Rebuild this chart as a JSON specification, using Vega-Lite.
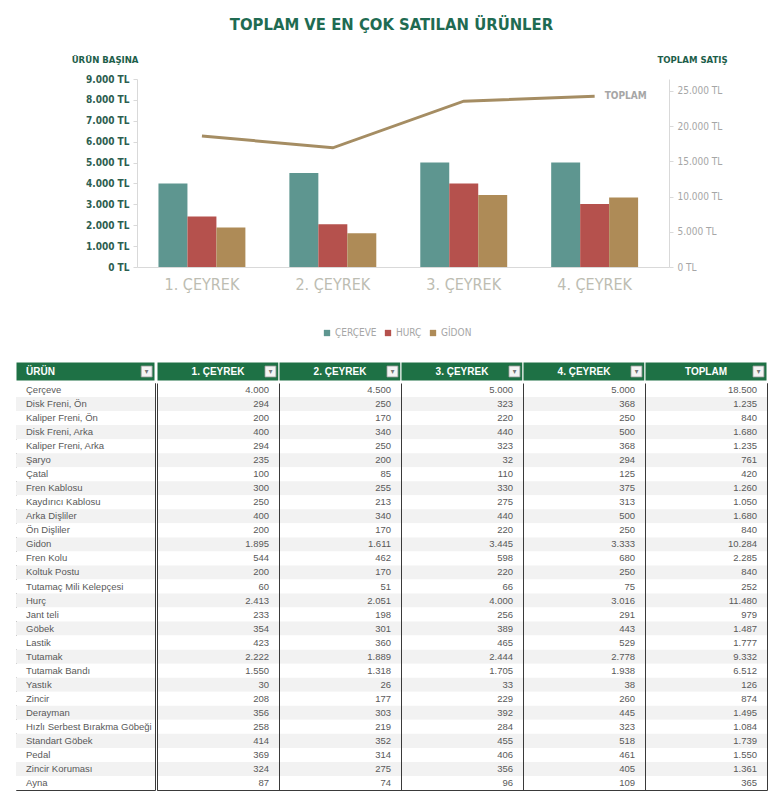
{
  "$schema": "https://vega.github.io/schema/vega-lite/v6.json",
  "background": "white",
  "padding": {"left": 15, "top": 17, "right": 10, "bottom": 12},
  "title": {"text": "TOPLAM VE EN ÇOK SATILAN ÜRÜNLER", "fontSize": 16.5, "font": "DejaVu Sans Condensed, DejaVu Sans, sans-serif", "fontWeight": "bold", "color": "#1F6B52", "anchor": "middle", "offset": 20.5},
  "config": {
    "locale": {"number": {"decimal": ",", "thousands": ".", "grouping": [3], "currency": ["", " TL"]}},
    "view": {"stroke": null},
    "font": "DejaVu Sans Condensed, DejaVu Sans, sans-serif"
  },
  "datasets": {
    "cubuk": [
      {"ceyrek": "1. ÇEYREK", "seri": "ÇERÇEVE", "deger": 4000},
      {"ceyrek": "1. ÇEYREK", "seri": "HURÇ", "deger": 2413},
      {"ceyrek": "1. ÇEYREK", "seri": "GİDON", "deger": 1895},
      {"ceyrek": "2. ÇEYREK", "seri": "ÇERÇEVE", "deger": 4500},
      {"ceyrek": "2. ÇEYREK", "seri": "HURÇ", "deger": 2051},
      {"ceyrek": "2. ÇEYREK", "seri": "GİDON", "deger": 1611},
      {"ceyrek": "3. ÇEYREK", "seri": "ÇERÇEVE", "deger": 5000},
      {"ceyrek": "3. ÇEYREK", "seri": "HURÇ", "deger": 4000},
      {"ceyrek": "3. ÇEYREK", "seri": "GİDON", "deger": 3445},
      {"ceyrek": "4. ÇEYREK", "seri": "ÇERÇEVE", "deger": 5000},
      {"ceyrek": "4. ÇEYREK", "seri": "HURÇ", "deger": 3016},
      {"ceyrek": "4. ÇEYREK", "seri": "GİDON", "deger": 3333}
    ],
    "toplam": [
      {"ceyrek": "1. ÇEYREK", "toplam": 18613},
      {"ceyrek": "2. ÇEYREK", "toplam": 16924},
      {"ceyrek": "3. ÇEYREK", "toplam": 23552},
      {"ceyrek": "4. ÇEYREK", "toplam": 24235}
    ],
    "tablo": [
      {"sira": 1, "urun": "Çerçeve", "q1": 4000, "q2": 4500, "q3": 5000, "q4": 5000, "toplam": 18500},
      {"sira": 2, "urun": "Disk Freni, Ön", "q1": 294, "q2": 250, "q3": 323, "q4": 368, "toplam": 1235},
      {"sira": 3, "urun": "Kaliper Freni, Ön", "q1": 200, "q2": 170, "q3": 220, "q4": 250, "toplam": 840},
      {"sira": 4, "urun": "Disk Freni, Arka", "q1": 400, "q2": 340, "q3": 440, "q4": 500, "toplam": 1680},
      {"sira": 5, "urun": "Kaliper Freni, Arka", "q1": 294, "q2": 250, "q3": 323, "q4": 368, "toplam": 1235},
      {"sira": 6, "urun": "Şaryo", "q1": 235, "q2": 200, "q3": 32, "q4": 294, "toplam": 761},
      {"sira": 7, "urun": "Çatal", "q1": 100, "q2": 85, "q3": 110, "q4": 125, "toplam": 420},
      {"sira": 8, "urun": "Fren Kablosu", "q1": 300, "q2": 255, "q3": 330, "q4": 375, "toplam": 1260},
      {"sira": 9, "urun": "Kaydırıcı Kablosu", "q1": 250, "q2": 213, "q3": 275, "q4": 313, "toplam": 1050},
      {"sira": 10, "urun": "Arka Dişliler", "q1": 400, "q2": 340, "q3": 440, "q4": 500, "toplam": 1680},
      {"sira": 11, "urun": "Ön Dişliler", "q1": 200, "q2": 170, "q3": 220, "q4": 250, "toplam": 840},
      {"sira": 12, "urun": "Gidon", "q1": 1895, "q2": 1611, "q3": 3445, "q4": 3333, "toplam": 10284},
      {"sira": 13, "urun": "Fren Kolu", "q1": 544, "q2": 462, "q3": 598, "q4": 680, "toplam": 2285},
      {"sira": 14, "urun": "Koltuk Postu", "q1": 200, "q2": 170, "q3": 220, "q4": 250, "toplam": 840},
      {"sira": 15, "urun": "Tutamaç Mili Kelepçesi", "q1": 60, "q2": 51, "q3": 66, "q4": 75, "toplam": 252},
      {"sira": 16, "urun": "Hurç", "q1": 2413, "q2": 2051, "q3": 4000, "q4": 3016, "toplam": 11480},
      {"sira": 17, "urun": "Jant teli", "q1": 233, "q2": 198, "q3": 256, "q4": 291, "toplam": 979},
      {"sira": 18, "urun": "Göbek", "q1": 354, "q2": 301, "q3": 389, "q4": 443, "toplam": 1487},
      {"sira": 19, "urun": "Lastik", "q1": 423, "q2": 360, "q3": 465, "q4": 529, "toplam": 1777},
      {"sira": 20, "urun": "Tutamak", "q1": 2222, "q2": 1889, "q3": 2444, "q4": 2778, "toplam": 9332},
      {"sira": 21, "urun": "Tutamak Bandı", "q1": 1550, "q2": 1318, "q3": 1705, "q4": 1938, "toplam": 6512},
      {"sira": 22, "urun": "Yastık", "q1": 30, "q2": 26, "q3": 33, "q4": 38, "toplam": 126},
      {"sira": 23, "urun": "Zincir", "q1": 208, "q2": 177, "q3": 229, "q4": 260, "toplam": 874},
      {"sira": 24, "urun": "Derayman", "q1": 356, "q2": 303, "q3": 392, "q4": 445, "toplam": 1495},
      {"sira": 25, "urun": "Hızlı Serbest Bırakma Göbeği", "q1": 258, "q2": 219, "q3": 284, "q4": 323, "toplam": 1084},
      {"sira": 26, "urun": "Standart Göbek", "q1": 414, "q2": 352, "q3": 455, "q4": 518, "toplam": 1739},
      {"sira": 27, "urun": "Pedal", "q1": 369, "q2": 314, "q3": 406, "q4": 461, "toplam": 1550},
      {"sira": 28, "urun": "Zincir Koruması", "q1": 324, "q2": 275, "q3": 356, "q4": 405, "toplam": 1361},
      {"sira": 29, "urun": "Ayna", "q1": 87, "q2": 74, "q3": 96, "q4": 109, "toplam": 365}
    ],
    "baslik": [
      {"kolon": "q1", "baslik": "1. ÇEYREK"},
      {"kolon": "q2", "baslik": "2. ÇEYREK"},
      {"kolon": "q3", "baslik": "3. ÇEYREK"},
      {"kolon": "q4", "baslik": "4. ÇEYREK"},
      {"kolon": "toplam", "baslik": "TOPLAM"}
    ],
    "urunbaslik": [{"kolon": "ÜRÜN"}]
  },
  "spacing": 69,
  "vconcat": [
    {
      "width": 750,
      "height": 188,
      "resolve": {"scale": {"y": "independent"}, "axis": {"y": "independent"}},
      "layer": [
        {
          "data": {"name": "cubuk"},
          "mark": {"type": "bar"},
          "encoding": {
            "x": {"field": "ceyrek", "type": "nominal", "sort": ["1. ÇEYREK", "2. ÇEYREK", "3. ÇEYREK", "4. ÇEYREK"],
              "scale": {"range": [121, 653], "paddingInner": 0.336, "paddingOuter": 0.2, "align": 0.41},
              "axis": {"title": null, "labelAngle": 0, "labelFontSize": 16, "labelColor": "#BDBDB2", "ticks": false, "domainColor": "#D9D9D9", "labelPadding": 9}},
            "xOffset": {"field": "seri", "type": "nominal", "sort": ["ÇERÇEVE", "HURÇ", "GİDON"], "scale": {"paddingInner": 0, "paddingOuter": 0}},
            "y": {"field": "deger", "type": "quantitative", "scale": {"domain": [0, 9000], "nice": false},
              "axis": {"title": "ÜRÜN BAŞINA", "titleAngle": 0, "titleAlign": "right", "titleX": 1, "titleY": -20, "titleBaseline": "middle", "titleFontSize": 9.5, "titleColor": "#1D5E4A", "titleFontWeight": "bold",
                "offset": -121, "values": [0, 1000, 2000, 3000, 4000, 5000, 6000, 7000, 8000, 9000], "format": ",.0f", "labelExpr": "datum.label + ' TL'", "labelOverlap": false,
                "labelColor": "#2D5E50", "labelFontWeight": "bold", "labelFontSize": 10, "grid": false, "domainColor": "#D9D9D9", "tickColor": "#D9D9D9", "tickSize": 4, "labelPadding": 4}},
            "color": {"field": "seri", "type": "nominal", "scale": {"domain": ["ÇERÇEVE", "HURÇ", "GİDON"], "range": ["#5E9690", "#B5514D", "#AE8B57"]},
              "legend": {"title": null, "orient": "none", "legendX": 306, "legendY": 249, "direction": "horizontal", "gridAlign": "none", "symbolType": "square", "symbolSize": 40, "labelFontSize": 10, "labelColor": "#A6A6A6", "columnPadding": 6, "symbolStrokeWidth": 0, "labelOffset": 3}}
          }
        },
        {
          "data": {"name": "toplam"},
          "layer": [
            {
              "mark": {"type": "line", "color": "#A58D63", "strokeWidth": 3},
              "encoding": {
                "x": {"field": "ceyrek", "type": "nominal", "sort": ["1. ÇEYREK", "2. ÇEYREK", "3. ÇEYREK", "4. ÇEYREK"]},
                "y": {"field": "toplam", "type": "quantitative", "scale": {"domain": [0, 26700], "nice": false},
                  "axis": {"orient": "right", "offset": -97, "title": "TOPLAM SATIŞ", "titleAngle": 0, "titleAlign": "left", "titleX": -12, "titleY": -20, "titleBaseline": "middle", "titleFontSize": 9.5, "titleColor": "#1D5E4A", "titleFontWeight": "bold",
                    "values": [0, 5000, 10000, 15000, 20000, 25000], "tickCount": 6, "format": ",.0f", "labelExpr": "datum.label + ' TL'", "labelOverlap": false,
                    "labelColor": "#A6A6A6", "labelFontSize": 10, "grid": false, "domainColor": "#D9D9D9", "tickColor": "#D9D9D9", "tickSize": 4, "labelPadding": 4}}
              }
            },
            {
              "transform": [{"filter": "datum.ceyrek == '4. ÇEYREK'"}],
              "mark": {"type": "text", "align": "left", "dx": 10, "color": "#A6A6A6", "fontSize": 10, "fontWeight": "bold"},
              "encoding": {
                "x": {"field": "ceyrek", "type": "nominal", "sort": ["1. ÇEYREK", "2. ÇEYREK", "3. ÇEYREK", "4. ÇEYREK"]},
                "y": {"field": "toplam", "type": "quantitative", "scale": {"domain": [0, 26700], "nice": false},
                  "axis": {"orient": "right", "offset": -97, "title": "TOPLAM SATIŞ", "titleAngle": 0, "titleAlign": "left", "titleX": -12, "titleY": -20, "titleBaseline": "middle", "titleFontSize": 9.5, "titleColor": "#1D5E4A", "titleFontWeight": "bold",
                    "values": [0, 5000, 10000, 15000, 20000, 25000], "tickCount": 6, "format": ",.0f", "labelExpr": "datum.label + ' TL'", "labelOverlap": false,
                    "labelColor": "#A6A6A6", "labelFontSize": 10, "grid": false, "domainColor": "#D9D9D9", "tickColor": "#D9D9D9", "tickSize": 4, "labelPadding": 4}},
                "text": {"value": "TOPLAM"}
              }
            }
          ]
        }
      ]
    },
    {
      "spacing": 0,
      "vconcat": [
        {
          "spacing": 0,
          "hconcat": [
            {
              "width": 139,
              "height": 19,
              "data": {"name": "urunbaslik"},
              "encoding": {"x": {"field": "kolon", "type": "nominal", "axis": null, "scale": {"paddingInner": 0, "paddingOuter": 0}}},
              "layer": [
                {"mark": {"type": "rect", "color": "#1E7145", "stroke": "white", "strokeWidth": 1}},
                {"mark": {"type": "text", "align": "left", "dx": 10, "color": "white", "fontWeight": "bold", "fontSize": 10, "font": "Liberation Sans, sans-serif"},
                  "encoding": {"x": {"field": "kolon", "type": "nominal", "bandPosition": 0, "axis": null}, "text": {"field": "kolon"}}},
                {"mark": {"type": "point", "shape": "square", "size": 120, "filled": true, "fill": "#F4F4F4", "stroke": "#9A9A9A", "strokeWidth": 0.8, "opacity": 1},
                  "encoding": {"x": {"field": "kolon", "type": "nominal", "bandPosition": 0.94, "axis": null}}},
                {"mark": {"type": "text", "text": "▾", "fontSize": 8, "color": "#777777"},
                  "encoding": {"x": {"field": "kolon", "type": "nominal", "bandPosition": 0.94, "axis": null}}}
              ]
            },
            {
              "width": 610,
              "height": 19,
              "data": {"name": "baslik"},
              "encoding": {"x": {"field": "kolon", "type": "nominal", "sort": ["q1", "q2", "q3", "q4", "toplam"], "axis": null, "scale": {"paddingInner": 0, "paddingOuter": 0}}},
              "layer": [
                {"mark": {"type": "rect", "color": "#1E7145", "stroke": "white", "strokeWidth": 1}},
                {"mark": {"type": "text", "color": "white", "fontWeight": "bold", "fontSize": 10, "font": "Liberation Sans, sans-serif"},
                  "encoding": {"text": {"field": "baslik"}}},
                {"mark": {"type": "point", "shape": "square", "size": 120, "filled": true, "fill": "#F4F4F4", "stroke": "#9A9A9A", "strokeWidth": 0.8, "opacity": 1},
                  "encoding": {"x": {"field": "kolon", "type": "nominal", "sort": ["q1", "q2", "q3", "q4", "toplam"], "bandPosition": 0.93, "axis": null}}},
                {"mark": {"type": "text", "text": "▾", "fontSize": 8, "color": "#777777"},
                  "encoding": {"x": {"field": "kolon", "type": "nominal", "sort": ["q1", "q2", "q3", "q4", "toplam"], "bandPosition": 0.93, "axis": null}}}
              ]
            }
          ]
        },
        {
          "spacing": 0,
          "hconcat": [
            {
              "width": 139,
              "height": 407,
              "view": {"stroke": "#3A3A3A"},
              "data": {"name": "tablo"},
              "encoding": {
                "y": {"field": "urun", "type": "nominal", "sort": {"field": "sira"}, "axis": null, "scale": {"paddingInner": 0, "paddingOuter": 0}},
                "x": {"datum": "ÜRÜN", "type": "nominal", "axis": null, "scale": {"paddingInner": 0, "paddingOuter": 0}}
              },
              "layer": [
                {"mark": {"type": "rect"},
                  "encoding": {"fill": {"condition": {"test": "datum.sira % 2 == 0", "value": "#F2F2F2"}, "value": "#FFFFFF"}}},
                {"mark": {"type": "text", "align": "left", "dx": 10, "color": "#595959", "fontSize": 9.5, "font": "Liberation Sans, sans-serif"},
                  "encoding": {"x": {"datum": "ÜRÜN", "type": "nominal", "bandPosition": 0, "axis": null}, "text": {"field": "urun"}}}
              ]
            },
            {
              "width": 610,
              "height": 407,
              "view": {"stroke": "#3A3A3A"},
              "data": {"name": "tablo"},
              "transform": [{"fold": ["q1", "q2", "q3", "q4", "toplam"], "as": ["kolon", "deger"]}],
              "encoding": {
                "y": {"field": "urun", "type": "nominal", "sort": {"field": "sira"}, "axis": null, "scale": {"paddingInner": 0, "paddingOuter": 0}},
                "x": {"field": "kolon", "type": "nominal", "sort": ["q1", "q2", "q3", "q4", "toplam"], "scale": {"paddingInner": 0, "paddingOuter": 0},
                  "axis": {"title": null, "orient": "top", "labels": false, "ticks": false, "domain": false, "grid": true, "gridColor": "#3A3A3A", "gridOpacity": 1, "bandPosition": 0, "zindex": 1}}
              },
              "layer": [
                {"mark": {"type": "rect"},
                  "encoding": {"fill": {"condition": {"test": "datum.sira % 2 == 0", "value": "#F2F2F2"}, "value": "#FFFFFF"}}},
                {"mark": {"type": "text", "align": "right", "dx": -10, "color": "#595959", "fontSize": 9.5, "font": "Liberation Sans, sans-serif"},
                  "encoding": {"x": {"field": "kolon", "type": "nominal", "sort": ["q1", "q2", "q3", "q4", "toplam"], "bandPosition": 1}, "text": {"field": "deger", "type": "quantitative", "format": ",.0f"}}}
              ]
            }
          ]
        }
      ]
    }
  ]
}
